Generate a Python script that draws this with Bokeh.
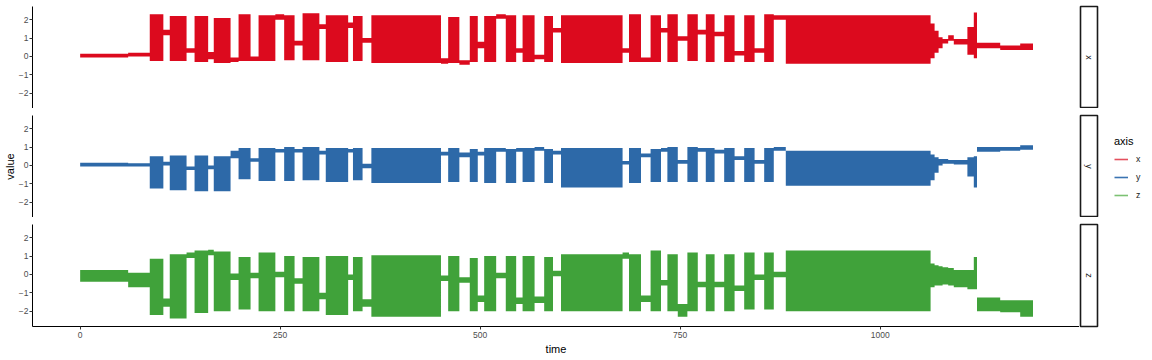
import math
import numpy as np
from bokeh.plotting import figure
from bokeh.layouts import row, column
from bokeh.models import Range1d, FixedTicker, Label, Legend, LegendItem
from bokeh.embed import file_html
from bokeh.resources import INLINE

# ---------------- data (envelopes) ----------------
series_names = ["x", "y", "z"]
x_ticks = [0, 250, 500, 750, 1000]
y_ticks = [-2, -1, 0, 1, 2]

# start time of each segment (bursts of activity / quiet stretches)
seg_start = [0, 60, 87, 104, 112, 133, 143, 160, 167, 188, 198, 213, 223, 244, 255, 268,
             278, 299, 307, 335, 341, 353, 364, 451, 460, 474, 487, 497, 505, 520, 532, 545,
             553, 568, 580, 591, 601, 678, 686, 701, 713, 726, 734, 747, 759, 772, 782, 793,
             805, 818, 830, 843, 855, 867, 882, 1063, 1068, 1073, 1078, 1085, 1092, 1109, 1117,
             1121, 1150, 1175]
t_end = 1191

x_lo = [-0.05, 0.0, -0.25, 1.15, -0.25, 0.2, -0.3, -0.15, -0.35, -0.3, -0.25, -0.25, -0.25, 2.0, -0.2, 0.6,
        -0.2, 1.5, -0.3, 1.55, -0.25, 0.75, -0.35, -0.4, -0.35, -0.45, -0.3, 0.45, -0.3, 2.05, -0.3, 0.2,
        -0.3, -0.15, -0.3, 1.3, -0.35, 0.2, -0.3, -0.3, -0.3, 1.3, -0.3, 0.85, -0.25, 1.2, -0.3, 1.1,
        -0.3, 0.05, -0.3, 0.2, -0.3, 2.0, -0.4, -0.1, 0.2, 0.45, 0.7, 0.85, 0.65, 0.1, -0.1,
        0.45, 0.35, 0.35]
x_hi = [0.15, 0.2, 2.3, 1.45, 2.2, 0.45, 2.2, 0.25, 2.1, -0.05, 2.3, 0.0, 2.25, 2.3, 2.25, 0.85,
        2.35, 1.75, 2.25, 1.85, 2.2, 1.0, 2.25, -0.1, 2.15, -0.2, 2.2, 0.8, 2.2, 2.3, 2.25, 0.45,
        2.25, 0.1, 2.2, 1.55, 2.25, 0.45, 2.3, -0.05, 2.25, 1.55, 2.3, 1.1, 2.3, 1.45, 2.3, 1.35,
        2.25, 0.3, 2.25, 0.45, 2.3, 2.25, 2.25, 1.8, 1.4, 1.05, 0.95, 1.15, 0.95, 1.6, 2.4,
        0.75, 0.6, 0.7]
y_lo = [-0.05, -0.05, -1.25, 0.0, -1.35, -0.25, -1.4, -0.2, -1.4, 0.4, -0.75, 0.2, -0.85, 0.7, -0.85, 0.7,
        -0.8, 0.6, -0.9, 0.7, -0.8, -0.15, -0.95, 0.55, -0.9, 0.45, -0.9, 0.55, -0.95, 0.75, -0.95, 0.75,
        -0.9, 0.8, -0.95, 0.6, -1.2, 0.05, -0.95, 0.45, -0.9, 0.75, -0.9, 0.1, -0.9, 0.75, -0.9, 0.65,
        -0.9, 0.3, -0.9, 0.1, -0.9, 0.8, -1.1, -0.8, -0.4, 0.0, 0.1, 0.1, 0.05, -0.6, -1.2,
        0.75, 0.8, 0.85]
y_hi = [0.15, 0.12, 0.5, 0.2, 0.55, -0.05, 0.55, 0.0, 0.5, 0.8, 0.95, 0.4, 0.95, 0.9, 1.0, 0.9,
        1.0, 0.8, 0.95, 0.9, 0.95, 0.1, 0.95, 0.75, 0.95, 0.7, 0.9, 0.75, 0.95, 0.95, 0.9, 0.95,
        0.95, 1.0, 0.9, 0.8, 0.95, 0.25, 0.95, 0.65, 0.9, 0.95, 1.0, 0.3, 1.0, 0.95, 0.95, 0.85,
        0.95, 0.5, 0.95, 0.3, 0.95, 1.0, 0.8, 0.6, 0.45, 0.35, 0.35, 0.3, 0.3, 0.45, 0.5,
        1.0, 1.0, 1.1]
z_lo = [-0.4, -0.7, -2.2, -1.75, -2.4, 0.9, -2.1, 1.05, -2.0, -0.3, -1.9, -0.2, -2.0, -0.15, -2.0, -0.5,
        -2.0, -1.35, -2.2, -0.3, -2.0, -1.75, -2.3, -0.35, -2.0, -0.45, -2.0, -1.5, -2.0, -0.2, -2.0, -1.6,
        -2.0, -1.55, -2.0, -0.1, -2.0, 0.85, -2.0, -1.5, -2.0, -0.6, -2.0, -2.3, -2.0, -0.7, -2.0, -0.7,
        -2.0, -0.9, -1.9, -0.3, -1.9, -0.15, -2.0, -0.7, -0.6, -0.6, -0.55, -0.6, -0.7, -0.8, -0.8,
        -2.0, -2.05, -2.3]
z_hi = [0.25, 0.1, 0.85, -1.3, 1.1, 1.2, 1.3, 1.35, 1.25, 0.05, 0.95, 0.1, 1.2, 0.15, 1.0, -0.2,
        0.95, -1.0, 1.0, 0.0, 0.95, -1.35, 1.05, -0.05, 1.0, -0.15, 0.9, -1.15, 1.0, 0.1, 1.0, -1.25,
        1.0, -1.2, 0.95, 0.2, 1.1, 1.2, 1.1, -1.15, 1.3, -0.3, 1.1, -1.6, 1.2, -0.4, 1.1, -0.4,
        1.1, -0.6, 1.2, 0.0, 1.2, 0.15, 1.3, 0.6, 0.5, 0.45, 0.4, 0.35, 0.25, 0.25, 0.95,
        -1.25, -1.4, -1.4]

# ---------------- styling ----------------
FONT = "Liberation Sans"
fill_colors = {"x": "#DC0A1E", "y": "#2D69A8", "z": "#40A23A"}
key_colors = {"x": "#E4505E", "y": "#3A74B2", "z": "#7CC173"}
lows = {"x": x_lo, "y": y_lo, "z": z_lo}
highs = {"x": x_hi, "y": y_hi, "z": z_hi}

BORDER_LEFT = 31
FRAME_H = 102
TOPS = [6, 7, 7]
BOTTOM = 33
PANEL_W = 1079
PX_PER_UNIT = 0.8008
ZERO_PX = 78.7
FRAME_W = PANEL_W - BORDER_LEFT
x_start = -(ZERO_PX - BORDER_LEFT) / PX_PER_UNIT
x_range = Range1d(x_start, x_start + FRAME_W / PX_PER_UNIT)


def envelope(lo, hi):
    starts = np.array(seg_start, dtype=float)
    ends = np.append(starts[1:], t_end)
    xs = np.column_stack([starts, ends]).ravel()
    return xs, np.repeat(np.array(lo, float), 2), np.repeat(np.array(hi, float), 2)


def style_axis(ax):
    ax.axis_line_color = "black"
    ax.axis_line_width = 1
    ax.major_tick_line_color = "#333333"
    ax.major_tick_in = 0
    ax.major_tick_out = 3
    ax.minor_tick_line_color = None
    ax.major_label_text_font = FONT
    ax.major_label_text_font_size = "8.5px"
    ax.major_label_text_color = "#4D4D4D"
    ax.major_label_standoff = 1
    ax.axis_label_text_font = FONT
    ax.axis_label_text_font_size = "11px"
    ax.axis_label_text_font_style = "normal"
    ax.axis_label_text_color = "black"
    ax.axis_label_standoff = 0


def make_panel(i, name):
    is_bottom = i == 2
    bb = BOTTOM if is_bottom else 0
    p = figure(width=PANEL_W, height=TOPS[i] + FRAME_H + bb, x_range=x_range,
               y_range=Range1d(-2.83, 2.72), output_backend="svg", toolbar_location=None,
               min_border_left=BORDER_LEFT, min_border_right=0, min_border_top=TOPS[i],
               min_border_bottom=bb, x_axis_location=("below" if is_bottom else None))
    p.outline_line_color = None
    p.xgrid.visible = False
    p.ygrid.visible = False
    xs, y1, y2 = envelope(lows[name], highs[name])
    p.varea(x=xs, y1=y1, y2=y2, fill_color=fill_colors[name])

    ax = p.yaxis[0]
    ax.ticker = FixedTicker(ticks=y_ticks)
    style_axis(ax)
    ax.axis_label = "value"
    if i != 1:
        ax.axis_label_text_alpha = 0

    if is_bottom:
        xa = p.xaxis[0]
        xa.ticker = FixedTicker(ticks=x_ticks)
        style_axis(xa)
        xa.major_label_standoff = 2
        xa.axis_label = "time"
        xa.axis_label_standoff = 2
    return p


def make_strip(i, name):
    bb = BOTTOM if i == 2 else 0
    s = figure(width=20, height=TOPS[i] + FRAME_H + bb, x_range=Range1d(0, 1),
               y_range=Range1d(0, 1), output_backend="svg", toolbar_location=None,
               x_axis_location=None, y_axis_location=None, min_border_left=1,
               min_border_right=2, min_border_top=TOPS[i], min_border_bottom=bb)
    s.xgrid.visible = False
    s.ygrid.visible = False
    s.outline_line_color = "#1A1A1A"
    s.outline_line_width = 1.6
    s.add_layout(Label(x=0.5, y=0.5, text=name, angle=-math.pi / 2, text_align="center",
                       text_baseline="middle", text_font=FONT, text_font_size="8.8px",
                       text_color="#1A1A1A"))
    return s


rows = []
for i, nm in enumerate(series_names):
    rows.append(row(make_panel(i, nm), make_strip(i, nm), spacing=0))

total_h = sum(TOPS) + 3 * FRAME_H + BOTTOM
leg = figure(width=1152 - PANEL_W - 20, height=total_h, x_range=Range1d(0, 1),
             y_range=Range1d(0, 1), output_backend="svg", toolbar_location=None,
             x_axis_location=None, y_axis_location=None, min_border_left=0,
             min_border_right=0, min_border_top=0, min_border_bottom=0)
leg.outline_line_color = None
leg.xgrid.visible = False
leg.ygrid.visible = False
items = []
for nm in series_names:
    r = leg.line(x=[float("nan")], y=[float("nan")], line_color=key_colors[nm], line_width=1.6)
    items.append(LegendItem(label=nm, renderers=[r]))
legend = Legend(items=items, title="axis", location=(15, 155))
legend.border_line_color = None
legend.background_fill_alpha = 0
legend.padding = 0
legend.margin = 0
legend.spacing = 0
legend.glyph_width = 14
legend.glyph_height = 18
legend.label_height = 18
legend.label_standoff = 8
legend.label_text_font = FONT
legend.label_text_font_size = "8.8px"
legend.label_text_color = "#1A1A1A"
legend.title_text_font = FONT
legend.title_text_font_size = "11px"
legend.title_text_font_style = "normal"
legend.title_text_color = "black"
legend.title_standoff = 3
leg.add_layout(legend)

layout = row(column(*rows, spacing=0), leg, spacing=0)

open("out.html", "w").write(file_html(layout, INLINE))
